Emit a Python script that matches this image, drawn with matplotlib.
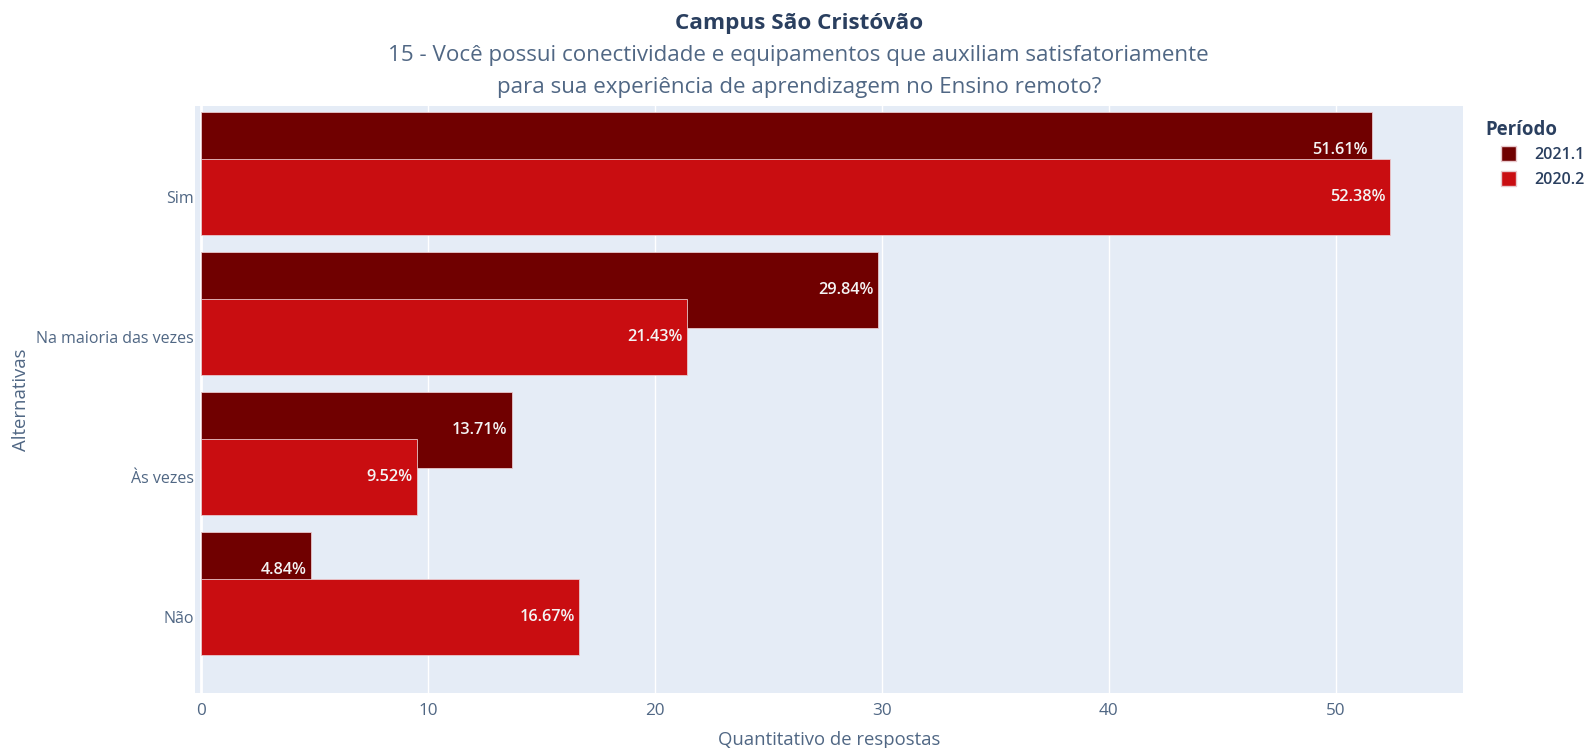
import matplotlib
matplotlib.use("Agg")
import matplotlib.pyplot as plt
from matplotlib.patches import Patch
import numpy as np

plt.rcParams['font.family'] = ['Open Sans', 'DejaVu Sans']

# answers, top to bottom
categorias = ["Sim", "Na maioria das vezes", "Às vezes", "Não"]
periodos = ["2021.1", "2020.2"]
valores_2021_1 = [51.61, 29.84, 13.71, 4.84]
valores_2020_2 = [52.38, 21.43, 9.52, 16.67]
cores = {"2021.1": "#700000", "2020.2": "#C90D11"}

texto_cor = "#2a3f5f"
tick_cor = "#506784"
fundo = "#E5ECF6"
borda = "#E8C8CC"

fig = plt.figure(figsize=(15.88, 7.48), dpi=100)
ax = fig.add_axes([0.1228, 0.0735, 0.9213 - 0.1228, 0.8583 - 0.0735])
ax.set_facecolor(fundo)

y = np.arange(len(categorias))[::-1].astype(float)
altura = 0.543
deslocamento = 0.336

series = [
    ("2021.1", valores_2021_1, y + deslocamento),
    ("2020.2", valores_2020_2, y),
]
for nome, vals, pos in series:
    ax.barh(pos, vals, height=altura, color=cores[nome],
            edgecolor=borda, linewidth=0.6, zorder=3)

for nome, vals, pos in series:
    for v, p in zip(vals, pos):
        ax.text(v - 0.2, p, f"{v:.2f}%", ha="right", va="center",
                color="#f4f4f4", fontsize=11.7, fontweight="semibold", zorder=5)

ax.set_xlim(-0.26, 55.6)
ax.set_ylim(-0.543, 3.65)
ax.set_xticks([0, 10, 20, 30, 40, 50])
ax.set_yticks(y)
ax.set_yticklabels(categorias)
ax.grid(axis="x", color="white", linewidth=1.0, zorder=0)
ax.axvline(0, color="white", linewidth=2.0, zorder=1)
for s in ax.spines.values():
    s.set_visible(False)
ax.tick_params(axis="both", length=0, colors=tick_cor)
ax.tick_params(axis="x", pad=7, labelsize=12.3)
ax.tick_params(axis="y", pad=1, labelsize=11.5)

ax.set_xlabel("Quantitativo de respostas", color=tick_cor, fontsize=13.3, labelpad=9)
ax.set_ylabel("Alternativas", color=tick_cor, fontsize=13.3)
ax.yaxis.set_label_coords(-0.130, 0.5)

fig.text(0.503, 1 - 23 / 748, "Campus São Cristóvão", ha="center", va="center",
         color=texto_cor, fontsize=16.2, fontweight="bold")
fig.text(0.503, 1 - 56 / 748,
         "15 - Você possui conectividade e equipamentos que auxiliam satisfatoriamente",
         ha="center", va="center", color=tick_cor, fontsize=16.1)
fig.text(0.503, 1 - 87 / 748,
         "para sua experiência de aprendizagem no Ensino remoto?",
         ha="center", va="center", color=tick_cor, fontsize=16.1)

# legend title sits left of the indented entries
fig.text(1485 / 1588, 1 - 130 / 748, "Período", ha="left", va="center",
         color=texto_cor, fontsize=13.4, fontweight="bold")
handles = [Patch(facecolor=cores[p], edgecolor=borda, label=p) for p in periodos]
leg = fig.legend(handles=handles, loc="upper left",
                 bbox_to_anchor=(1501 / 1588, 1 - 146 / 748), frameon=False,
                 borderpad=0, borderaxespad=0,
                 handlelength=0.95, handleheight=1.1, handletextpad=1.15,
                 labelspacing=0.5, fontsize=11.5)
for t in leg.get_texts():
    t.set_color(texto_cor)
    t.set_fontweight("semibold")

fig.savefig("out.png", dpi=100)
